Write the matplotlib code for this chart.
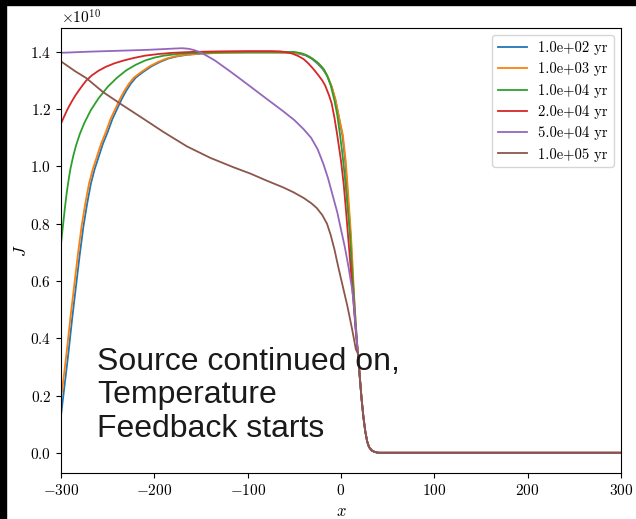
import matplotlib
matplotlib.use("Agg")
import matplotlib.pyplot as plt
from matplotlib.patches import Rectangle
import numpy as np

plt.rcParams['font.family'] = 'serif'
plt.rcParams['font.serif'] = ['cmr10']
plt.rcParams['mathtext.fontset'] = 'cm'
plt.rcParams['axes.formatter.use_mathtext'] = True

SCALE = 1e10  # J values below are in units of 1e10

labels = ["1.0e+02 yr", "1.0e+03 yr", "1.0e+04 yr", "2.0e+04 yr", "5.0e+04 yr", "1.0e+05 yr"]

# shared tail: every curve ends on the same steep drop and flat zero
x_tail = [18, 20, 22, 24, 26, 28, 30, 33, 36, 40, 100, 200, 300]
j_tail = [0.35, 0.27, 0.19, 0.125, 0.075, 0.04, 0.02, 0.008, 0.003, 0.0, 0.0, 0.0, 0.0]

# 1.0e+02 yr
x_1e2 = [-300, -296, -292, -288, -284, -280, -276, -272, -268, -264, -260, -255, -250, -245, -240,
         -235, -230, -225, -220, -212, -203, -194, -185, -175, -165, -150, -130, -100, -70, -55,
         -45, -38, -32, -26, -20, -15, -10, -6, -2, 1.5, 4.5, 6.5, 8.5, 10.2, 12, 13.5, 15.5]
j_1e2 = [0.13, 0.24, 0.35, 0.47, 0.58, 0.69, 0.79, 0.87, 0.94, 0.99, 1.03, 1.08, 1.12, 1.165, 1.20,
         1.235, 1.265, 1.29, 1.31, 1.33, 1.35, 1.365, 1.377, 1.385, 1.39, 1.394, 1.397, 1.398, 1.398, 1.397,
         1.394, 1.388, 1.378, 1.362, 1.342, 1.318, 1.278, 1.232, 1.168, 1.109, 1.02, 0.934, 0.84, 0.76, 0.65, 0.55, 0.44]

# 1.0e+03 yr
x_1e3 = [-300, -298, -294, -290, -286, -282, -278, -274, -270, -266, -262, -257, -252, -247, -242,
         -237, -232, -227, -222, -214, -205, -196, -187, -177, -167, -152, -132, -100, -70, -55,
         -45, -38, -32, -26, -20, -15, -10, -6, -2, 2, 5, 7, 9, 10.7, 12.5, 14, 16]
j_1e3 = [0.19, 0.24, 0.35, 0.47, 0.58, 0.69, 0.79, 0.87, 0.94, 0.99, 1.03, 1.08, 1.12, 1.165, 1.20,
         1.235, 1.265, 1.29, 1.31, 1.33, 1.35, 1.365, 1.377, 1.385, 1.39, 1.394, 1.397, 1.398, 1.398, 1.397,
         1.395, 1.39, 1.38, 1.365, 1.345, 1.32, 1.28, 1.235, 1.17, 1.109, 1.02, 0.934, 0.84, 0.76, 0.65, 0.55, 0.44]

# 1.0e+04 yr
x_1e4 = [-300, -298, -296, -294, -292, -290, -287, -284, -280, -275, -268, -260, -250, -240, -230,
         -220, -210, -200, -190, -175, -160, -140, -120, -70, -50, -42, -36, -30, -24, -18, -14, -11,
         -7, -4, -1, 2, 5, 7.5, 9.6, 12, 14, 16]
j_1e4 = [0.73, 0.79, 0.85, 0.905, 0.95, 0.99, 1.035, 1.072, 1.112, 1.152, 1.197, 1.237, 1.278, 1.31, 1.336,
         1.355, 1.37, 1.38, 1.387, 1.393, 1.396, 1.398, 1.40, 1.40, 1.40, 1.395, 1.387, 1.375, 1.36, 1.338, 1.31, 1.283,
         1.23, 1.18, 1.109, 1.03, 0.934, 0.84, 0.76, 0.63, 0.54, 0.44]

# 2.0e+04 yr
x_2e4 = [-300, -297, -293, -289, -285, -281, -277, -273, -267, -260, -252, -243, -233, -222, -210,
         -195, -180, -160, -130, -100, -75, -65, -58, -52, -46, -40, -35, -30, -25, -20, -17, -13, -10,
         -7, -4, 0, 3, 5.5, 7.5, 10, 12, 14, 16]
j_2e4 = [1.15, 1.172, 1.20, 1.224, 1.246, 1.265, 1.283, 1.30, 1.318, 1.334, 1.348, 1.36, 1.37, 1.379, 1.387,
         1.393, 1.397, 1.400, 1.402, 1.403, 1.403, 1.402, 1.399, 1.394, 1.386, 1.375, 1.36, 1.342, 1.322, 1.30, 1.283, 1.25, 1.22,
         1.17, 1.109, 1.02, 0.934, 0.84, 0.76, 0.66, 0.58, 0.50, 0.42]

# 5.0e+04 yr
x_5e4 = [-300, -270, -240, -210, -190, -178, -170, -163, -157, -150, -143, -135, -120, -108, -97,
         -80, -62, -50, -40, -32, -25, -19, -14, -9, -4, 0, 4, 8, 12, 14, 16]
j_5e4 = [1.397, 1.401, 1.404, 1.407, 1.410, 1.412, 1.413, 1.411, 1.406, 1.398, 1.385, 1.37, 1.335, 1.306, 1.279,
         1.237, 1.193, 1.162, 1.13, 1.10, 1.06, 1.01, 0.96, 0.90, 0.84, 0.78, 0.72, 0.65, 0.57, 0.51, 0.43]

# 1.0e+05 yr
x_1e5 = [-300, -285, -273, -255, -234, -210, -190, -165, -140, -115, -97, -80, -62, -51, -40, -32,
         -26, -20, -15, -11, -7, -3, 2, 7, 12, 16]
j_1e5 = [1.367, 1.333, 1.309, 1.26, 1.214, 1.163, 1.12, 1.07, 1.03, 0.997, 0.975, 0.951, 0.927, 0.91, 0.89, 0.872,
         0.855, 0.83, 0.80, 0.76, 0.71, 0.65, 0.58, 0.51, 0.43, 0.36]

series = [(x_1e2, j_1e2), (x_1e3, j_1e3), (x_1e4, j_1e4), (x_2e4, j_2e4), (x_5e4, j_5e4), (x_1e5, j_1e5)]

fig = plt.figure(figsize=(6.36, 5.19), dpi=100)
ax = fig.add_axes([61 / 636, 1 - 473 / 519, 560 / 636, 445 / 519])

for (xs, js), lab in zip(series, labels):
    xx = np.concatenate([xs, x_tail])
    jj = np.concatenate([js, j_tail])
    ax.plot(xx, jj * SCALE, label=lab, linewidth=1.3)

ax.set_xlim(-300, 300)
ax.set_xlabel('$x$', fontsize=12)
ax.set_ylabel('$J$', fontsize=12, labelpad=1)
ax.tick_params(labelsize=11)
ax.yaxis.get_offset_text().set_fontsize(11)
ax.legend(loc='upper right', fontsize=10.5)

ax.text(0.064, 0.284, "Source continued on,\nTemperature\nFeedback starts",
        transform=ax.transAxes, ha='left', va='top', fontsize=23,
        family='Liberation Sans', color='#1a1a1a', linespacing=1.15)

# black border strips seen on the reference screenshot
fig.patches.append(Rectangle((0, 1 - 5 / 519), 1, 5 / 519, transform=fig.transFigure,
                             color='black', zorder=10))
fig.patches.append(Rectangle((0, 0), 6 / 636, 1, transform=fig.transFigure,
                             color='black', zorder=10))

fig.savefig('out.png', dpi=100)
